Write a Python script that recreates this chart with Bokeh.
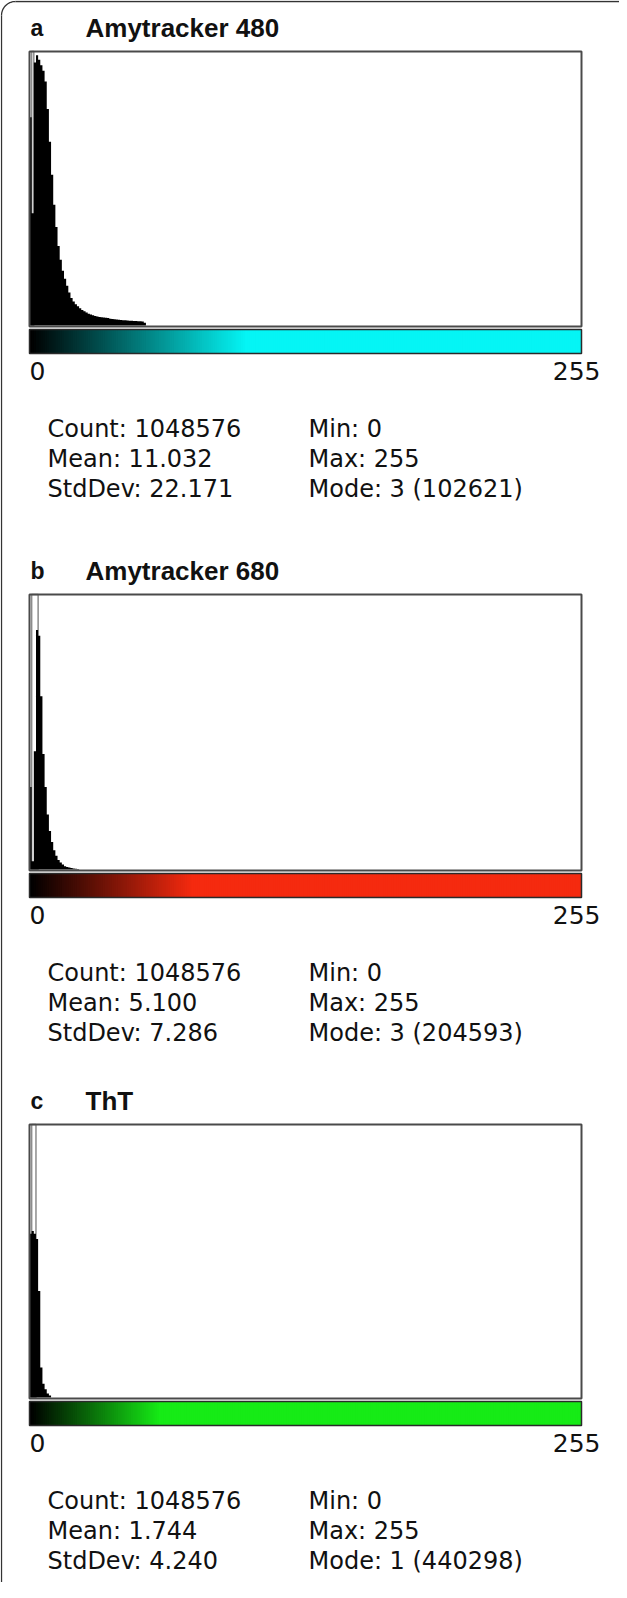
import numpy as np
from bokeh.plotting import figure
from bokeh.models import Range1d
from bokeh.core.properties import value
from bokeh.embed import file_html
from bokeh.resources import INLINE

# ---------------- data ----------------
letters = ["a", "b", "c"]
titles = ["Amytracker 480", "Amytracker 680", "ThT"]

# histogram counts per grey level (bins 0..n-1, remaining bins are ~0)
counts_a = [79000, 42600, 99800, 102621, 100900, 98800, 96700, 92600, 82200, 69700,
            57200, 45800, 37400, 30200, 25000, 20800, 17700, 15100, 12500, 10400,
            9150, 8100, 7300, 6550, 5900, 5400, 4900, 4500, 4150, 3850,
            3650, 3450, 3250, 3100, 3000, 2900, 2800, 2600, 2500, 2400,
            2300, 2200, 2100, 2000, 1950, 1900, 1850, 1800, 1750, 1700,
            1650, 1600, 1550, 1050]
counts_b = [70500, 7000, 101000, 204593, 199800, 148000, 98700, 70500, 47000, 32900,
            23500, 16450, 11750, 8200, 5900, 4200, 2800, 2100, 1650, 1200,
            900, 700, 470]
counts_c = [433000, 440298, 433000, 419000, 281600, 79400, 36100, 21700, 10800, 5050]
all_counts = [counts_a, counts_b, counts_c]
y_max = [104000, 235000, 722000]
marker_bins = [(1, 1), (1, 3), (1, 2)]

stats_left = [["Count: 1048576", "Mean: 11.032", "StdDev: 22.171"],
              ["Count: 1048576", "Mean: 5.100", "StdDev: 7.286"],
              ["Count: 1048576", "Mean: 1.744", "StdDev: 4.240"]]
stats_right = [["Min: 0", "Max: 255", "Mode: 3 (102621)"],
               ["Min: 0", "Max: 255", "Mode: 3 (204593)"],
               ["Min: 0", "Max: 255", "Mode: 1 (440298)"]]
tick_labels = ["0", "255"]
lut_end = [(5, 245, 245), (245, 42, 15), (22, 235, 22)]
lut_sat = [100, 75, 60]

# ---------------- layout (page pixels) ----------------
W, H = 619, 1582
OFF = 8
box_l, box_r = 37, 589
box_top = [59, 602, 1132]
box_bot = [333, 877, 1405]

p = figure(width=W, height=H, x_range=Range1d(0, W), y_range=Range1d(H, 0),
           x_axis_type=None, y_axis_type=None, toolbar_location=None,
           output_backend="svg", min_border=0)
p.outline_line_color = None
p.grid.visible = False
p.background_fill_color = "white"
p.border_fill_color = "white"

fx0, fx1 = box_l - OFF, box_r - OFF
span_x = 256.0 * W / (fx1 - fx0)
sx = -fx0 * span_x / W
p.extra_x_ranges = {"bins": Range1d(sx, sx + span_x)}

eyr = {}
for i in range(3):
    fb = box_bot[i] - OFF
    ft = box_top[i] - OFF
    sb, st = H - fb, H - ft
    span_y = y_max[i] * H / (st - sb)
    s0 = -sb * span_y / H
    eyr[f"y{i}"] = Range1d(s0, s0 + span_y)
p.extra_y_ranges = eyr

# outer frame
r = 14
cx, cy = 1 + r, 1 + r
t = np.linspace(0, np.pi / 2, 20)
ax = list(cx - r * np.cos(t))
ay = list(cy - r * np.sin(t))
p.line([1, 1], [H, cy], line_color="#333333", line_width=1.3)
p.line(ax, ay, line_color="#333333", line_width=1.3)
p.line([cx, W], [1, 1], line_color="#333333", line_width=1.3)

for i in range(3):
    yname = f"y{i}"
    counts = all_counts[i]
    m0, m1 = marker_bins[i]
    # overflow marker outline
    p.quad(left=[m0], right=[m1 + 1], bottom=[0], top=[y_max[i]],
           fill_color=None, line_color="#8c8c8c", line_width=1.5,
           x_range_name="bins", y_range_name=yname)
    edges = list(range(len(counts) + 1))
    p.varea_step(x=edges, y1=[0] * len(edges), y2=list(counts) + [0], step_mode="after",
                 fill_color="black", x_range_name="bins", y_range_name=yname)
    # histogram box
    p.quad(left=[fx0], right=[fx1], top=[box_top[i] - OFF], bottom=[box_bot[i] - OFF + 1],
           fill_color=None, line_color="#4a4a4a", line_width=2)
    # LUT bar
    bt = box_bot[i] + 4 - OFF
    bb = bt + 24
    lv = np.arange(256)
    tt = np.clip(lv / lut_sat[i], 0, 1)
    er, eg, eb = lut_end[i]
    cols = ["#%02x%02x%02x" % (int(er * v), int(eg * v), int(eb * v)) for v in tt]
    p.quad(left=lv, right=np.minimum(lv + 2, 256), top=bt, bottom=bb, fill_color=cols,
           line_color=None, x_range_name="bins")
    p.quad(left=[fx0], right=[fx1], top=[bt], bottom=[bb], fill_color=None,
           line_color="#2a2a2a", line_width=1.5)
    # tick labels
    ly = box_bot[i] + 45 - OFF
    p.text(x=[fx0], y=[ly], text=[tick_labels[0]], text_font=value("DejaVu Sans"),
           text_font_size="25px", text_baseline="middle", text_align="left",
           text_color="#111111")
    p.text(x=[608 - OFF], y=[ly], text=[tick_labels[1]], text_font=value("DejaVu Sans"),
           text_font_size="25px", text_baseline="middle", text_align="right",
           text_color="#111111")
    # title
    ty = box_top[i] - 24 - OFF
    p.text(x=[38 - OFF], y=[ty], text=[letters[i]], text_font=value("Liberation Sans"),
           text_font_style="bold", text_font_size="23px", text_baseline="middle",
           text_color="#111111")
    p.text(x=[93 - OFF], y=[ty], text=[titles[i]], text_font=value("Liberation Sans"),
           text_font_style="bold", text_font_size="26px", text_baseline="middle",
           text_color="#111111")
    # stats
    sy = [box_bot[i] + d - OFF for d in (103, 133, 163)]
    p.text(x=[55 - OFF] * 3, y=sy, text=stats_left[i], text_font=value("DejaVu Sans"),
           text_font_size="24px", text_baseline="middle", text_color="#111111")
    p.text(x=[316 - OFF] * 3, y=sy, text=stats_right[i], text_font=value("DejaVu Sans"),
           text_font_size="24px", text_baseline="middle", text_color="#111111")

open("out.html", "w").write(file_html(p, INLINE))
